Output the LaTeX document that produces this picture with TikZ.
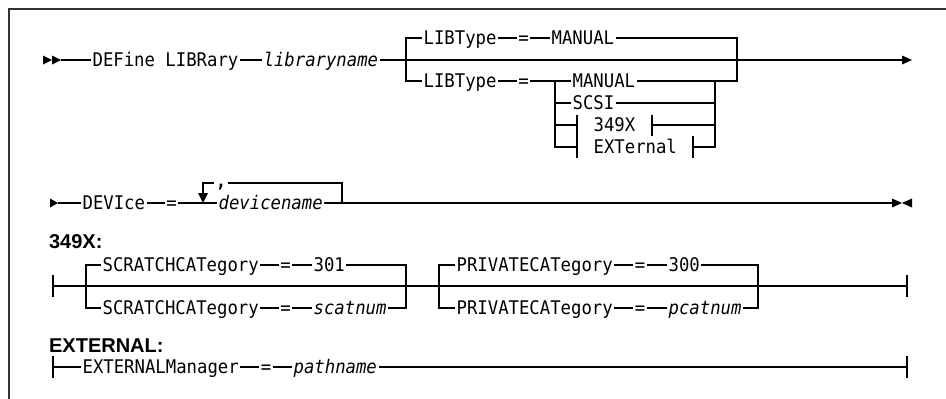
\documentclass[tikz,border=0pt]{standalone}
\usepackage{fontspec}
\newfontfamily\synfont{DejaVu Sans Mono}[FakeStretch=0.92]
\newfontfamily\headfont{Liberation Sans}
\begin{document}
\begin{tikzpicture}[x=1pt,y=-1pt,line width=1.2pt,
  kw/.style={font=\synfont\fontsize{18.8}{22}\selectfont,inner xsep=1pt,inner ysep=0pt,text height=13.6pt,text depth=0pt,anchor=west},
  var/.style={kw,font=\synfont\fontsize{18.8}{22}\selectfont\itshape},
  eqn/.style={kw,anchor=center},
  hd/.style={font=\headfont\bfseries\fontsize{20}{24}\selectfont,inner sep=0pt,anchor=base west}]
\useasboundingbox (0,0) rectangle (946,399);
\draw[line width=1.8pt,black!80] (9,399) -- (9,9) -- (946,9);

% ---------- Row A ----------
\node[kw] (def) at (91,60) {DEFine LIBRary};
\node[var] (libn) at (262,60) {libraryname};
\coordinate (stA) at (61,60);
\coordinate (endA) at (902,60);
\fill (43,55.5) -- (52,60) -- (43,64.5) -- cycle;
\fill (52,55.5) -- (61,60) -- (52,64.5) -- cycle;
\draw (stA) -- (def.west);
\draw (def.east) -- (libn.west);
\draw (libn.east) -- (endA);
\fill (902,55.5) -- (912,60) -- (902,64.5) -- cycle;

\coordinate (aL) at (406,60);
\coordinate (aR) at (737,60);
\node[kw] (lt1) at (422,38) {LIBType};
\node[eqn] (le1) at (523.5,38) {=};
\node[kw] (lm1) at (550,38) {MANUAL};
\draw (aL) |- (lt1.west);
\draw (lt1.east) -- (le1.west);
\draw (le1.east) -- (lm1.west);
\draw (lm1.east) -| (aR);

\node[kw] (lt2) at (422,81) {LIBType};
\node[eqn] (le2) at (523.5,81) {=};
\coordinate (sL) at (555,81);
\coordinate (sR) at (715,81);
\node[kw] (lm2) at (571,81) {MANUAL};
\draw (aL) |- (lt2.west);
\draw (lt2.east) -- (le2.west);
\draw (le2.east) -- (lm2.west);
\draw (lm2.east) -| (aR);

\node[kw] (scsi) at (571,103) {SCSI};
\draw (sL) |- (scsi.west);
\draw (scsi.east) -| (sR);

\node[kw] (f1) at (592,125) {349X};
\coordinate (f1L) at (577,125);
\coordinate (f1R) at (652,125);
\draw (sL) |- (f1L);
\draw (577,114.5) -- (577,157.5);
\draw (652,114.5) -- (652,136);
\draw (f1R) -| (sR);

\node[kw] (f2) at (592,147) {EXTernal};
\coordinate (f2L) at (577,147);
\coordinate (f2R) at (693,147);
\draw (sL) |- (f2L);
\draw (693,136) -- (693,157.5);
\draw (f2R) -| (sR);

% ---------- Row C ----------
\fill (50,198.5) -- (58,203) -- (50,207.5) -- cycle;
\coordinate (stC) at (58,203);
\node[kw] (dev) at (81,203) {DEVIce};
\node[eqn] (de) at (171.5,203) {=};
\coordinate (rpL) at (203,203);
\coordinate (rpR) at (342,203);
\node[var] (devn) at (217,203) {devicename};
\coordinate (endC) at (892,203);
\draw (stC) -- (dev.west);
\draw (dev.east) -- (de.west);
\draw (de.east) -- (devn.west);
\draw (devn.east) -- (endC);
\draw (rpR) -- (342,183) -- (203,183) -- (203,194);
\fill (198,193) -- (208,193) -- (203,203) -- cycle;
\node[font=\synfont\bfseries\fontsize{18.8}{22}\selectfont,fill=white,inner xsep=1.5pt,inner ysep=0pt,text height=13pt,text depth=0pt,anchor=base] (comma) at (221,187.5) {,};
\fill (892,198.5) -- (902,203) -- (892,207.5) -- cycle;
\fill (912,198.5) -- (902,203) -- (912,207.5) -- cycle;

% ---------- 349X fragment ----------
\node[hd] (h1) at (48.5,248) {349X:};
\coordinate (gL) at (53,286);
\coordinate (gR) at (907,286);
\coordinate (sa) at (86,286);
\coordinate (sb) at (406,286);
\coordinate (pa) at (439,286);
\coordinate (pb) at (758,286);
\draw (53,275) -- (53,297);
\draw (907,275) -- (907,297);
\draw (gL) -- (gR);

\node[kw] (sc1) at (101,265) {SCRATCHCATegory};
\node[eqn] (se1) at (285.5,265) {=};
\node[kw] (sv1) at (312,265) {301};
\draw (sa) |- (sc1.west);
\draw (sc1.east) -- (se1.west);
\draw (se1.east) -- (sv1.west);
\draw (sv1.east) -| (sb);

\node[kw] (sc2) at (101,308) {SCRATCHCATegory};
\node[eqn] (se2) at (285.5,308) {=};
\node[var] (sv2) at (312,308) {scatnum};
\draw (sa) |- (sc2.west);
\draw (sc2.east) -- (se2.west);
\draw (se2.east) -- (sv2.west);
\draw (sv2.east) -| (sb);

\node[kw] (pc1) at (455,265) {PRIVATECATegory};
\node[eqn] (pe1) at (640,265) {=};
\node[kw] (pv1) at (667,265) {300};
\draw (pa) |- (pc1.west);
\draw (pc1.east) -- (pe1.west);
\draw (pe1.east) -- (pv1.west);
\draw (pv1.east) -| (pb);

\node[kw] (pc2) at (455,308) {PRIVATECATegory};
\node[eqn] (pe2) at (640,308) {=};
\node[var] (pv2) at (667,308) {pcatnum};
\draw (pa) |- (pc2.west);
\draw (pc2.east) -- (pe2.west);
\draw (pe2.east) -- (pv2.west);
\draw (pv2.east) -| (pb);

% ---------- EXTERNAL fragment ----------
\node[hd] (h2) at (48.5,352.5) {EXTERNAL:};
\coordinate (eL) at (53,367);
\coordinate (eR) at (907,367);
\draw (53,356) -- (53,378);
\draw (907,356) -- (907,378);
\node[kw] (em) at (81,367) {EXTERNALManager};
\node[eqn] (ee) at (266,367) {=};
\node[var] (ep) at (292,367) {pathname};
\draw (eL) -- (em.west);
\draw (em.east) -- (ee.west);
\draw (ee.east) -- (ep.west);
\draw (ep.east) -- (eR);
\end{tikzpicture}
\end{document}
